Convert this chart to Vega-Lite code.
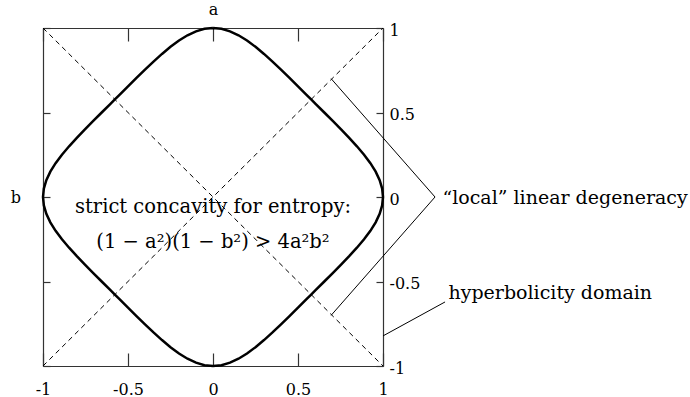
{
  "$schema": "https://vega.github.io/schema/vega-lite/v6.json",
  "width": 340,
  "height": 338,
  "autosize": "none",
  "padding": {"left": 43, "top": 28, "right": 307, "bottom": 31},
  "background": "white",
  "config": {"view": {"stroke": null}},
  "datasets": {
    "diag": [
      {"g": "d1", "a": -1, "b": -1}, {"g": "d1", "a": 1, "b": 1},
      {"g": "d2", "a": -1, "b": 1}, {"g": "d2", "a": 1, "b": -1}
    ],
    "ann": [
      {"g": "loc", "i": 0, "a": 0.695, "b": 0.7},
      {"g": "loc", "i": 1, "a": 1.306, "b": 0},
      {"g": "loc", "i": 2, "a": 0.695, "b": -0.7},
      {"g": "hyp", "i": 0, "a": 1.0, "b": -0.822},
      {"g": "hyp", "i": 1, "a": 1.365, "b": -0.621}
    ],
    "centerLabels": [
      {"t": "strict concavity for entropy:", "a": 0, "b": -0.095},
      {"t": "(1 − a²)(1 − b²) > 4a²b²", "a": 0, "b": -0.302}
    ],
    "sideLabels": [
      {"t": "“local” linear degeneracy", "a": 1.35, "b": -0.041},
      {"t": "hyperbolicity domain", "a": 1.385, "b": -0.604}
    ],
    "curve": [
      {"i": 0, "a": 0, "b": 1}, {"i": 1, "a": 0.05, "b": 0.99502}, {"i": 2, "a": 0.1, "b": 0.98039}, {"i": 3, "a": 0.15, "b": 0.95692},
      {"i": 4, "a": 0.2, "b": 0.92582}, {"i": 5, "a": 0.25, "b": 0.88852}, {"i": 6, "a": 0.3, "b": 0.84648}, {"i": 7, "a": 0.35, "b": 0.80105},
      {"i": 8, "a": 0.4, "b": 0.75337}, {"i": 9, "a": 0.45, "b": 0.70435}, {"i": 10, "a": 0.5, "b": 0.65465}, {"i": 11, "a": 0.55, "b": 0.6047},
      {"i": 12, "a": 0.57735, "b": 0.57735}, {"i": 13, "a": 0.6047, "b": 0.55}, {"i": 14, "a": 0.65465, "b": 0.5}, {"i": 15, "a": 0.70435, "b": 0.45},
      {"i": 16, "a": 0.75337, "b": 0.4}, {"i": 17, "a": 0.80105, "b": 0.35}, {"i": 18, "a": 0.84648, "b": 0.3}, {"i": 19, "a": 0.88852, "b": 0.25},
      {"i": 20, "a": 0.92582, "b": 0.2}, {"i": 21, "a": 0.95692, "b": 0.15}, {"i": 22, "a": 0.98039, "b": 0.1}, {"i": 23, "a": 0.99502, "b": 0.05},
      {"i": 24, "a": 1, "b": 0},
      {"i": 25, "a": 0.99502, "b": -0.05}, {"i": 26, "a": 0.98039, "b": -0.1}, {"i": 27, "a": 0.95692, "b": -0.15}, {"i": 28, "a": 0.92582, "b": -0.2},
      {"i": 29, "a": 0.88852, "b": -0.25}, {"i": 30, "a": 0.84648, "b": -0.3}, {"i": 31, "a": 0.80105, "b": -0.35}, {"i": 32, "a": 0.75337, "b": -0.4},
      {"i": 33, "a": 0.70435, "b": -0.45}, {"i": 34, "a": 0.65465, "b": -0.5}, {"i": 35, "a": 0.6047, "b": -0.55}, {"i": 36, "a": 0.57735, "b": -0.57735},
      {"i": 37, "a": 0.55, "b": -0.6047}, {"i": 38, "a": 0.5, "b": -0.65465}, {"i": 39, "a": 0.45, "b": -0.70435}, {"i": 40, "a": 0.4, "b": -0.75337},
      {"i": 41, "a": 0.35, "b": -0.80105}, {"i": 42, "a": 0.3, "b": -0.84648}, {"i": 43, "a": 0.25, "b": -0.88852}, {"i": 44, "a": 0.2, "b": -0.92582},
      {"i": 45, "a": 0.15, "b": -0.95692}, {"i": 46, "a": 0.1, "b": -0.98039}, {"i": 47, "a": 0.05, "b": -0.99502}, {"i": 48, "a": 0, "b": -1},
      {"i": 49, "a": -0.05, "b": -0.99502}, {"i": 50, "a": -0.1, "b": -0.98039}, {"i": 51, "a": -0.15, "b": -0.95692}, {"i": 52, "a": -0.2, "b": -0.92582},
      {"i": 53, "a": -0.25, "b": -0.88852}, {"i": 54, "a": -0.3, "b": -0.84648}, {"i": 55, "a": -0.35, "b": -0.80105}, {"i": 56, "a": -0.4, "b": -0.75337},
      {"i": 57, "a": -0.45, "b": -0.70435}, {"i": 58, "a": -0.5, "b": -0.65465}, {"i": 59, "a": -0.55, "b": -0.6047}, {"i": 60, "a": -0.57735, "b": -0.57735},
      {"i": 61, "a": -0.6047, "b": -0.55}, {"i": 62, "a": -0.65465, "b": -0.5}, {"i": 63, "a": -0.70435, "b": -0.45}, {"i": 64, "a": -0.75337, "b": -0.4},
      {"i": 65, "a": -0.80105, "b": -0.35}, {"i": 66, "a": -0.84648, "b": -0.3}, {"i": 67, "a": -0.88852, "b": -0.25}, {"i": 68, "a": -0.92582, "b": -0.2},
      {"i": 69, "a": -0.95692, "b": -0.15}, {"i": 70, "a": -0.98039, "b": -0.1}, {"i": 71, "a": -0.99502, "b": -0.05}, {"i": 72, "a": -1, "b": 0},
      {"i": 73, "a": -0.99502, "b": 0.05}, {"i": 74, "a": -0.98039, "b": 0.1}, {"i": 75, "a": -0.95692, "b": 0.15}, {"i": 76, "a": -0.92582, "b": 0.2},
      {"i": 77, "a": -0.88852, "b": 0.25}, {"i": 78, "a": -0.84648, "b": 0.3}, {"i": 79, "a": -0.80105, "b": 0.35}, {"i": 80, "a": -0.75337, "b": 0.4},
      {"i": 81, "a": -0.70435, "b": 0.45}, {"i": 82, "a": -0.65465, "b": 0.5}, {"i": 83, "a": -0.6047, "b": 0.55}, {"i": 84, "a": -0.57735, "b": 0.57735},
      {"i": 85, "a": -0.55, "b": 0.6047}, {"i": 86, "a": -0.5, "b": 0.65465}, {"i": 87, "a": -0.45, "b": 0.70435}, {"i": 88, "a": -0.4, "b": 0.75337},
      {"i": 89, "a": -0.35, "b": 0.80105}, {"i": 90, "a": -0.3, "b": 0.84648}, {"i": 91, "a": -0.25, "b": 0.88852}, {"i": 92, "a": -0.2, "b": 0.92582},
      {"i": 93, "a": -0.15, "b": 0.95692}, {"i": 94, "a": -0.1, "b": 0.98039}, {"i": 95, "a": -0.05, "b": 0.99502}, {"i": 96, "a": 0, "b": 1}
    ]
  },
  "layer": [
    {
      "data": {"name": "diag"},
      "mark": {"type": "line", "color": "black", "strokeWidth": 1, "strokeDash": [5, 4]},
      "encoding": {
        "x": {"field": "a", "type": "quantitative", "scale": {"domain": [-1, 1], "nice": false, "zero": false},
          "axis": {"orient": "bottom", "values": [-1, -0.5, 0, 0.5, 1], "title": null, "grid": false,
            "tickSize": -13, "labelPadding": 28, "labelFlush": false, "labelExpr": "toString(datum.value)",
            "labelFont": "DejaVu Serif", "labelFontSize": 16, "labelColor": "black",
            "domainColor": "#333", "tickColor": "#333", "domainWidth": 1.2, "tickWidth": 1.2}},
        "y": {"field": "b", "type": "quantitative", "scale": {"domain": [-1, 1], "nice": false, "zero": false},
          "axis": {"orient": "right", "values": [-1, -0.5, 0, 0.5, 1], "title": null, "grid": false,
            "tickSize": -7, "labelPadding": 13, "labelFlush": false, "labelExpr": "toString(datum.value)",
            "labelAlign": "left", "labelBaseline": "middle", "labelOffset": 2,
            "labelFont": "DejaVu Serif", "labelFontSize": 16, "labelColor": "black",
            "domainColor": "#333", "tickColor": "#333", "domainWidth": 1.2, "tickWidth": 1.2}},
        "detail": {"field": "g"}
      }
    },
    {
      "data": {"name": "curve"},
      "mark": {"type": "line", "color": "black", "strokeWidth": 2.5},
      "encoding": {
        "x": {"field": "a", "type": "quantitative",
          "axis": {"orient": "top", "values": [-1, -0.5, 0, 0.5, 1], "title": "a", "grid": false, "labels": false,
            "tickSize": -13, "titlePadding": 10, "titleFont": "DejaVu Serif", "titleFontSize": 16, "titleFontWeight": "normal", "titleColor": "black",
            "domainColor": "#333", "tickColor": "#333", "domainWidth": 1.2, "tickWidth": 1.2}},
        "y": {"field": "b", "type": "quantitative",
          "axis": {"orient": "left", "values": [-1, -0.5, 0, 0.5, 1], "title": "b", "grid": false, "labels": false,
            "tickSize": -7, "titlePadding": 22, "titleAngle": 0, "titleAlign": "right", "titleBaseline": "middle",
            "titleFont": "DejaVu Serif", "titleFontSize": 16, "titleFontWeight": "normal", "titleColor": "black",
            "domainColor": "#333", "tickColor": "#333", "domainWidth": 1.2, "tickWidth": 1.2}},
        "order": {"field": "i", "type": "quantitative"}
      }
    },
    {
      "data": {"name": "ann"},
      "mark": {"type": "line", "color": "black", "strokeWidth": 1},
      "encoding": {
        "x": {"field": "a", "type": "quantitative", "axis": null},
        "y": {"field": "b", "type": "quantitative", "axis": null},
        "detail": {"field": "g"},
        "order": {"field": "i", "type": "quantitative"}
      }
    },
    {
      "data": {"name": "centerLabels"},
      "mark": {"type": "text", "font": "DejaVu Serif", "fontSize": 19.5, "align": "center", "baseline": "alphabetic", "color": "black"},
      "encoding": {
        "x": {"field": "a", "type": "quantitative", "axis": null},
        "y": {"field": "b", "type": "quantitative", "axis": null},
        "text": {"field": "t"}
      }
    },
    {
      "data": {"name": "sideLabels"},
      "mark": {"type": "text", "font": "DejaVu Serif", "fontSize": 19, "align": "left", "baseline": "alphabetic", "color": "black"},
      "encoding": {
        "x": {"field": "a", "type": "quantitative", "axis": null},
        "y": {"field": "b", "type": "quantitative", "axis": null},
        "text": {"field": "t"}
      }
    }
  ],
  "resolve": {"axis": {"x": "independent", "y": "independent"}}
}
